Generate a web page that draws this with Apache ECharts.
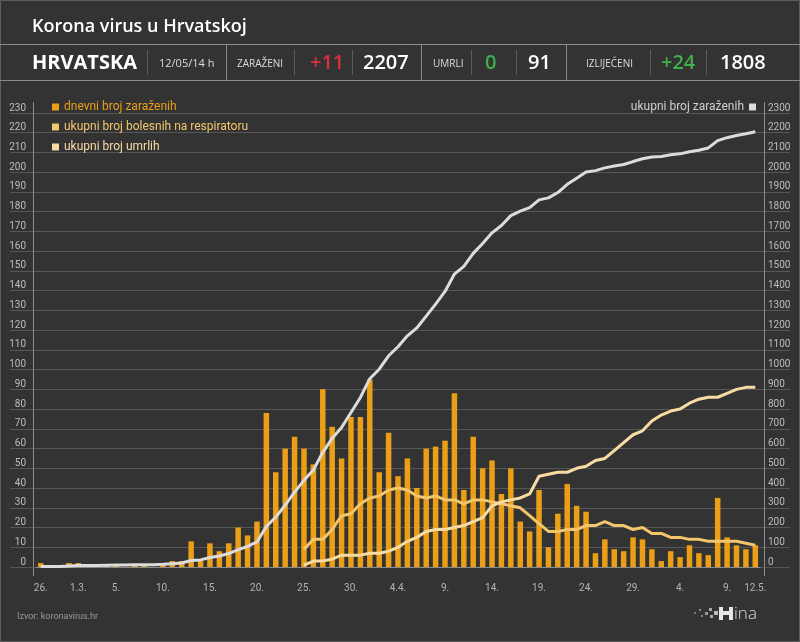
<!DOCTYPE html>
<html>
<head>
<meta charset="utf-8">
<script src="https://cdn.jsdelivr.net/npm/echarts@6/dist/echarts.min.js"></script>
<style>
  html, body { margin: 0; padding: 0; background: #333333; }
  #chart { width: 800px; height: 642px; }
</style>
</head>
<body>
<div id="chart"></div>
<script>
// dani (26.2. - 12.5.)
const days = [
  '26.2.', '27.2.', '28.2.', '29.2.',
  '1.3.', '2.3.', '3.3.', '4.3.', '5.3.', '6.3.', '7.3.', '8.3.', '9.3.', '10.3.',
  '11.3.', '12.3.', '13.3.', '14.3.', '15.3.', '16.3.', '17.3.', '18.3.', '19.3.', '20.3.',
  '21.3.', '22.3.', '23.3.', '24.3.', '25.3.', '26.3.', '27.3.', '28.3.', '29.3.', '30.3.', '31.3.',
  '1.4.', '2.4.', '3.4.', '4.4.', '5.4.', '6.4.', '7.4.', '8.4.', '9.4.', '10.4.',
  '11.4.', '12.4.', '13.4.', '14.4.', '15.4.', '16.4.', '17.4.', '18.4.', '19.4.', '20.4.',
  '21.4.', '22.4.', '23.4.', '24.4.', '25.4.', '26.4.', '27.4.', '28.4.', '29.4.', '30.4.',
  '1.5.', '2.5.', '3.5.', '4.5.', '5.5.', '6.5.', '7.5.', '8.5.', '9.5.', '10.5.', '11.5.', '12.5.'
]

// oznake na x osi
const labelDays = ['26.2.', '1.3.', '5.3.', '10.3.', '15.3.', '20.3.', '25.3.', '30.3.', '4.4.',
  '9.4.', '14.4.', '19.4.', '24.4.', '29.4.', '4.5.', '9.5.', '12.5.']
const labelText = ['26.', '1.3.', '5.', '10.', '15.', '20.', '25.', '30.', '4.4.',
  '9.', '14.', '19.', '24.', '29.', '4.', '9.', '12.5.']

// dnevni broj zaraženih
const daily = [
  2, 0, 0, 2, 2, 0, 1, 1, 1, 0, 1, 1, 0, 2, 3, 3,
  13, 3, 12, 8, 12, 20, 16, 23,
  78, 48, 60, 66, 60, 52, 90, 71, 55, 76, 76, 95,
  48, 68, 46, 55, 40, 60, 61, 64, 88, 39, 66, 50, 54,
  37, 50, 23, 18, 39, 10, 27, 42, 31, 28,
  7, 14, 9, 8, 15, 14, 9, 3, 8, 5, 11, 7, 6,
  35, 15, 11, 9, 11
]

// ukupni broj zaraženih (desna os)
const total = [
  3, 3, 3, 5, 7, 7, 8, 9, 10, 10, 11, 12, 12, 14, 17, 20,
  33, 36, 48, 56, 68, 88, 104, 127,
  205, 253, 313, 379, 439, 491, 581, 652, 707, 783, 859, 954,
  1002, 1070, 1116, 1171, 1211, 1271, 1332, 1396, 1484, 1523, 1589, 1639, 1693,
  1730, 1780, 1803, 1821, 1860, 1870, 1897, 1939, 1970, 2001,
  2008, 2022, 2031, 2039, 2054, 2068, 2077, 2080, 2088, 2093, 2104, 2111, 2123,
  2160, 2175, 2186, 2195, 2205
]

// od 25.3.
const respirator = [
  9, 14, 14, 19, 26, 27, 32, 35, 36, 39, 40, 39, 36, 35, 36, 34, 34, 32, 34, 34,
  33, 32, 31, 30, 26, 22, 18, 18, 19, 19, 21, 21, 23, 21, 21, 19, 20, 17, 17, 15,
  15, 14, 14, 13, 13, 13, 13, 12, 11
]
const deaths = [
  1, 3, 3, 4, 6, 6, 6, 7, 7, 8, 10, 13, 15, 18, 19, 19, 20, 21, 23, 25,
  31, 33, 34, 35, 37, 46, 47, 48, 48, 50, 51, 54, 55, 59, 63, 67, 69, 74, 77, 79,
  80, 83, 85, 86, 86, 88, 90, 91, 91
]
const lineStart = days.indexOf('25.3.')

const statLabels = ['ZARAŽENI', 'UMRLI', 'IZLIJEČENI']
const statDelta = ['+11', '0', '+24']
const statTotal = ['2207', '91', '1808']

const NARROW = "'Liberation Sans Narrow', 'Roboto', sans-serif"
const SANS = "'Open Sans', 'Noto Sans', sans-serif"
const C_BAR = '#eb9f17'
const C_RESP = '#f3c66c'
const C_DEATH = '#f8dca4'
const C_TOTAL = '#dcdcdc'
const C_AXIS = '#8c8c8c'

const pad = arr => new Array(lineStart).fill(null).concat(arr)
const isLabelDay = (i, v) => labelDays.indexOf(v) >= 0

const txt = (x, y, text, font, fill, align) => ({
  type: 'text', x, y, silent: true,
  style: { text, font, fill, textAlign: align || 'left', textVerticalAlign: 'middle' }
})
const vline = (x, y1, y2, stroke) => ({
  type: 'line', silent: true,
  shape: { x1: x, y1, x2: x, y2 }, style: { stroke, lineWidth: 1 }
})
const dot = (x, y, s, fill) => ({
  type: 'rect', silent: true, shape: { x, y, width: s, height: s }, style: { fill }
})

const chart = echarts.init(document.getElementById('chart'))

const graphics = [
  { type: 'rect', silent: true, shape: { x: 0.5, y: 0.5, width: 799, height: 641 }, style: { fill: 'none', stroke: '#5e5e5e' } },
  txt(32, 27, 'Korona virus u Hrvatskoj', '600 18px ' + SANS, '#ffffff'),
  { type: 'line', silent: true, shape: { x1: 0, y1: 44.5, x2: 800, y2: 44.5 }, style: { stroke: '#8a8a8a' } },
  { type: 'line', silent: true, shape: { x1: 0, y1: 80.5, x2: 800, y2: 80.5 }, style: { stroke: '#8a8a8a' } },
  txt(32, 63, 'HRVATSKA', 'bold 20px ' + SANS, '#ffffff'),
  vline(147.5, 50, 75, '#5c5c5c'),
  txt(159, 64, '12/05/14 h', '11px ' + SANS, '#dddddd'),
  vline(226.5, 44, 80, '#8a8a8a'),
  txt(237, 64, statLabels[0], '10px ' + SANS, '#dddddd'),
  vline(294.5, 50, 75, '#5c5c5c'),
  txt(310, 63, statDelta[0], '600 20px ' + SANS, '#d8313d'),
  vline(352.5, 50, 75, '#5c5c5c'),
  txt(363, 63, statTotal[0], '600 20px ' + SANS, '#ffffff'),
  vline(421.5, 44, 80, '#8a8a8a'),
  txt(433, 64, statLabels[1], '10px ' + SANS, '#dddddd'),
  vline(471.5, 50, 75, '#5c5c5c'),
  txt(485, 63, statDelta[1], '600 20px ' + SANS, '#3fb04b'),
  vline(516.5, 50, 75, '#5c5c5c'),
  txt(528, 63, statTotal[1], '600 20px ' + SANS, '#ffffff'),
  vline(566.5, 44, 80, '#8a8a8a'),
  txt(586, 64, statLabels[2], '10px ' + SANS, '#dddddd'),
  vline(650.5, 50, 75, '#5c5c5c'),
  txt(661, 63, statDelta[2], '600 20px ' + SANS, '#3fb04b'),
  vline(706.5, 50, 75, '#5c5c5c'),
  txt(720, 63, statTotal[2], '600 20px ' + SANS, '#ffffff'),
  // produžeci osi
  vline(33.5, 102, 113, C_AXIS),
  vline(33.5, 567, 576, C_AXIS),
  vline(764.5, 102, 113, C_AXIS),
  vline(764.5, 567, 576, C_AXIS),
  txt(17, 617, 'Izvor: koronavirus.hr', '9px ' + NARROW, '#9a9a9a'),
  // hina logo
  dot(694, 612, 2, '#777'),
  dot(699, 609, 2, '#888'),
  dot(701, 615, 2, '#888'),
  dot(705, 612, 3, '#999'),
  dot(709, 608, 3, '#aaa'),
  dot(710, 615, 3, '#aaa'),
  dot(714, 611, 4, '#bbb'),
  { type: 'rect', silent: true, shape: { x: 719, y: 607, width: 4, height: 13 }, style: { fill: '#e6e6e6' } },
  { type: 'rect', silent: true, shape: { x: 723, y: 611, width: 6, height: 4 }, style: { fill: '#e6e6e6' } },
  { type: 'rect', silent: true, shape: { x: 729, y: 607, width: 4, height: 13 }, style: { fill: '#e6e6e6' } },
  txt(734, 614, 'ina', '300 17px ' + SANS, '#dedede')
]

const option = {
  backgroundColor: '#333333',
  animation: false,
  textStyle: { fontFamily: NARROW },
  graphic: graphics,
  legend: [
    {
      orient: 'vertical', left: 52, top: 100, padding: 0,
      itemWidth: 7, itemHeight: 7, itemGap: 6, icon: 'rect',
      textStyle: { fontSize: 12, lineHeight: 14, fontFamily: NARROW },
      data: [
        { name: 'dnevni broj zaraženih', textStyle: { color: C_BAR } },
        { name: 'ukupni broj bolesnih na respiratoru', textStyle: { color: C_RESP } },
        { name: 'ukupni broj umrlih', textStyle: { color: C_DEATH } }
      ]
    },
    {
      right: 44, top: 100, padding: 0, align: 'right',
      itemWidth: 7, itemHeight: 7, icon: 'rect',
      textStyle: { fontSize: 12, lineHeight: 14, color: '#cfcfcf', fontFamily: NARROW },
      data: ['ukupni broj zaraženih']
    }
  ],
  grid: [
    { left: 36, right: 40, top: 113, bottom: 75 },
    { left: 10, right: 10, top: 113, bottom: 75 }
  ],
  xAxis: [
    {
      type: 'category', gridIndex: 0, data: days, position: 'bottom',
      axisLine: { lineStyle: { color: C_AXIS } },
      axisTick: { alignWithLabel: true, interval: 0, length: 7, lineStyle: { color: C_AXIS } },
      axisLabel: { show: false }
    },
    {
      type: 'category', gridIndex: 0, data: days, position: 'bottom',
      axisLine: { show: false },
      axisTick: { alignWithLabel: true, interval: isLabelDay, length: 12, lineStyle: { color: C_AXIS } },
      axisLabel: {
        interval: isLabelDay, color: '#b4b4b4', fontSize: 10, margin: 16,
        formatter: v => labelText[labelDays.indexOf(v)]
      }
    },
    { type: 'value', gridIndex: 1, show: false, min: 0, max: 1 }
  ],
  yAxis: [
    {
      type: 'value', gridIndex: 0, position: 'left', offset: 3,
      min: 0, max: 230, interval: 10,
      axisLine: { show: true, lineStyle: { color: C_AXIS } },
      axisTick: { show: false },
      splitLine: { show: false },
      axisLabel: { color: '#bdbdbd', fontSize: 10, margin: 7, verticalAlign: 'bottom' }
    },
    {
      type: 'value', gridIndex: 0, position: 'right', offset: 4,
      min: 0, max: 2300, interval: 100,
      axisLine: { show: true, lineStyle: { color: C_AXIS } },
      axisTick: { show: false },
      splitLine: { show: false },
      axisLabel: { color: '#bdbdbd', fontSize: 10, margin: 4, verticalAlign: 'bottom', formatter: v => String(v) }
    },
    {
      type: 'value', gridIndex: 1, min: 0, max: 230, interval: 10,
      axisLine: { show: false }, axisTick: { show: false }, axisLabel: { show: false },
      splitLine: { show: true, lineStyle: { color: '#575757' } }
    }
  ],
  series: [
    {
      name: 'dnevni broj zaraženih', type: 'bar', xAxisIndex: 0, yAxisIndex: 0,
      data: daily, barWidth: 5.5, color: C_BAR
    },
    {
      name: 'ukupni broj zaraženih', type: 'line', xAxisIndex: 0, yAxisIndex: 1,
      data: total, color: C_TOTAL, symbol: 'none', lineStyle: { width: 3, color: C_TOTAL }
    },
    {
      name: 'ukupni broj bolesnih na respiratoru', type: 'line', xAxisIndex: 0, yAxisIndex: 0,
      data: pad(respirator), color: C_RESP, symbol: 'none', lineStyle: { width: 3, color: C_RESP }
    },
    {
      name: 'ukupni broj umrlih', type: 'line', xAxisIndex: 0, yAxisIndex: 0,
      data: pad(deaths), color: C_DEATH, symbol: 'none', lineStyle: { width: 3, color: C_DEATH }
    }
  ]
}

chart.setOption(option)
</script>
</body>
</html>
